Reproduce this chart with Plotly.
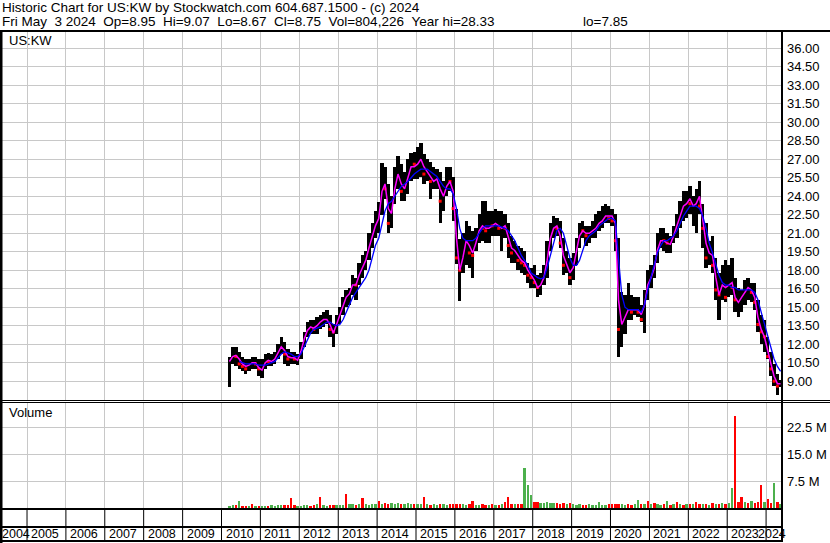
import plotly.graph_objects as go
import pandas as pd

# ---------------- data (monthly, Mar 2010 .. May 2024) ----------------
months = pd.period_range("2010-03", "2024-05", freq="M")

high = [
    11.0, 11.8, 11.8, 11.4, 11.0, 10.8, 10.8, 11.0, 11.0, 10.8,              # 2010 Mar-Dec
    10.8, 11.2, 11.3, 11.2, 11.4, 12.0, 12.6, 12.2, 11.6, 11.4, 11.4, 11.2,  # 2011
    12.2, 13.0, 13.8, 14.0, 14.0, 14.2, 14.4, 14.6, 14.8, 14.4, 13.6, 14.4,  # 2012
    15.0, 15.8, 16.4, 16.6, 17.6, 17.4, 18.6, 19.2, 19.6, 21.0, 21.8, 22.8,  # 2013
    23.5, 26.7, 26.4, 25.0, 24.0, 26.4, 27.3, 26.6, 26.0, 27.0, 27.5, 27.6,  # 2014
    28.0, 28.3, 27.4, 27.0, 26.8, 26.4, 26.2, 26.0, 25.2, 26.4, 26.4, 25.6,  # 2015
    23.0, 20.5, 21.0, 22.0, 21.6, 21.2, 21.4, 22.6, 23.6, 23.6, 22.8, 22.8,  # 2016
    23.0, 22.8, 22.8, 22.6, 21.8, 20.8, 20.4, 20.0, 19.8, 19.6, 18.6, 18.2,  # 2017
    18.4, 17.6, 17.8, 18.4, 20.4, 21.8, 22.4, 22.2, 22.0, 20.6, 19.6, 19.0,  # 2018
    19.4, 20.6, 21.8, 22.0, 21.6, 21.6, 22.0, 22.6, 22.8, 23.2, 23.4, 23.2,  # 2019
    23.0, 22.6, 20.6, 16.2, 16.0, 17.0, 16.0, 15.8, 15.8, 15.2, 16.4, 18.0,  # 2020
    18.4, 19.2, 21.0, 21.4, 21.4, 21.0, 20.8, 21.6, 22.6, 23.6, 24.4, 24.4,  # 2021
    24.8, 24.0, 24.6, 25.2, 23.4, 21.8, 20.4, 20.8, 19.0, 17.8, 18.4, 18.8,  # 2022
    18.4, 19.0, 17.4, 16.6, 16.4, 17.2, 17.4, 17.0, 17.0, 15.6, 14.4, 14.0,  # 2023
    12.6, 11.4, 10.4, 9.6, 9.1,                                              # 2024 Jan-May
]
low = [
    8.5, 10.4, 10.2, 10.0, 9.8, 9.6, 9.8, 10.0, 10.0, 9.4,
    9.3, 10.0, 10.2, 10.2, 10.4, 10.8, 11.2, 10.4, 10.2, 10.4, 10.4, 10.3,
    10.8, 11.8, 12.6, 12.8, 12.8, 12.8, 13.2, 13.4, 13.6, 12.6, 11.8, 12.8,
    13.6, 14.4, 15.0, 15.2, 16.0, 15.6, 16.8, 17.4, 18.0, 18.8, 19.8, 20.6,
    21.0, 22.5, 23.8, 21.0, 21.4, 23.4, 24.6, 23.6, 23.6, 24.2, 25.2, 25.4,
    25.4, 25.6, 25.0, 25.2, 23.8, 24.6, 24.6, 21.8, 22.8, 24.0, 24.4, 22.0,
    18.5, 15.5, 17.8, 18.4, 18.2, 17.4, 19.6, 20.2, 20.4, 20.2, 20.2, 20.8,
    20.8, 20.8, 19.6, 20.6, 19.0, 18.6, 18.6, 18.0, 17.8, 17.6, 17.0, 16.6,
    16.6, 15.8, 16.0, 16.8, 17.4, 19.6, 20.6, 20.8, 19.8, 17.6, 17.8, 16.8,
    17.2, 18.4, 19.8, 20.6, 20.0, 20.2, 20.6, 20.6, 21.2, 21.4, 21.8, 21.8,
    21.6, 19.6, 11.0, 11.8, 12.8, 14.0, 14.0, 14.4, 14.2, 13.8, 12.9, 15.6,
    16.6, 17.4, 18.6, 19.8, 19.6, 19.4, 19.4, 20.2, 20.6, 21.4, 22.0, 22.2,
    22.6, 21.6, 21.0, 22.6, 19.8, 18.2, 18.4, 17.8, 15.6, 14.0, 15.6, 15.4,
    15.8, 16.0, 14.6, 14.2, 14.6, 15.2, 15.6, 15.4, 14.8, 13.0, 12.0, 11.4,
    10.8, 9.4, 8.6, 7.85, 8.5,
]
close = [
    10.8, 11.2, 11.0, 10.4, 10.2, 10.0, 10.4, 10.6, 10.4, 10.0,
    10.2, 10.8, 10.6, 10.6, 11.0, 11.6, 12.0, 11.2, 10.8, 11.0, 10.8, 10.8,
    12.0, 12.8, 13.4, 13.4, 13.2, 13.8, 14.0, 14.0, 14.2, 13.2, 13.0, 14.0,
    14.8, 15.4, 16.0, 16.2, 17.2, 16.8, 18.2, 18.4, 19.2, 20.4, 21.0, 22.2,
    22.8, 25.5, 24.6, 21.8, 23.4, 25.8, 26.0, 24.4, 25.0, 26.4, 26.8, 26.6,
    26.6, 27.0, 25.8, 26.2, 25.2, 25.4, 25.6, 23.6, 24.4, 25.4, 25.2, 23.0,
    19.0, 18.0, 20.0, 20.6, 19.4, 19.2, 20.8, 21.6, 21.4, 21.2, 21.8, 21.6,
    21.8, 21.4, 21.6, 21.4, 20.0, 19.4, 19.6, 18.8, 18.6, 18.4, 17.6, 17.4,
    17.0, 16.6, 17.4, 17.6, 19.8, 21.2, 21.6, 21.4, 20.2, 18.4, 18.4, 17.4,
    18.8, 20.2, 21.4, 21.2, 20.8, 21.2, 21.4, 21.6, 22.0, 22.2, 22.6, 22.2,
    22.0, 20.4, 13.2, 14.0, 14.4, 15.0, 14.6, 14.8, 14.6, 14.0, 16.0, 17.5,
    17.6, 18.6, 20.2, 20.6, 20.4, 20.2, 20.2, 21.2, 21.8, 22.8, 23.2, 23.6,
    23.4, 23.4, 24.0, 23.2, 21.4, 19.0, 19.4, 18.4, 16.4, 16.0, 17.6, 15.8,
    17.0, 16.6, 15.6, 15.6, 16.0, 16.4, 16.8, 16.2, 15.4, 13.6, 13.0, 12.6,
    11.0, 10.0, 9.0, 8.6, 8.75,
]
ma_fast = [
    10.6, 11.0, 11.1, 10.8, 10.4, 10.2, 10.3, 10.5, 10.5, 10.1,
    9.9, 10.5, 10.7, 10.6, 10.8, 11.3, 11.8, 11.5, 11.0, 10.9, 10.9, 10.7,
    11.4, 12.4, 13.1, 13.4, 13.3, 13.5, 13.8, 14.0, 14.0, 13.6, 12.9, 13.6,
    14.4, 15.2, 15.8, 16.1, 16.8, 16.8, 17.6, 18.2, 18.8, 19.8, 20.8, 21.6,
    22.2, 24.4, 25.0, 23.0, 22.6, 24.6, 25.8, 25.0, 24.6, 25.6, 26.4, 26.4,
    26.6, 27.0, 26.4, 26.0, 25.6, 25.2, 25.4, 24.6, 24.0, 24.8, 25.2, 24.4,
    20.6, 18.0, 19.0, 20.4, 20.0, 19.4, 20.2, 21.2, 21.6, 21.4, 21.4, 21.6,
    21.8, 21.6, 21.4, 21.6, 20.8, 19.8, 19.6, 19.2, 18.8, 18.6, 18.0, 17.6,
    17.2, 16.6, 16.8, 17.4, 18.8, 20.6, 21.4, 21.6, 20.8, 19.2, 18.4, 17.8,
    18.2, 19.6, 20.8, 21.2, 21.0, 21.0, 21.2, 21.4, 21.8, 22.0, 22.4, 22.4,
    22.4, 21.8, 15.6, 13.6, 14.2, 14.8, 14.8, 14.8, 14.8, 14.4, 15.2, 16.8,
    17.4, 18.2, 19.6, 20.4, 20.4, 20.2, 20.1, 20.8, 21.6, 22.4, 23.2, 23.4,
    23.8, 23.2, 23.4, 24.0, 22.2, 20.2, 19.4, 19.2, 17.4, 16.0, 16.8, 16.6,
    16.8, 17.0, 15.8, 15.4, 15.8, 16.2, 16.6, 16.4, 15.8, 14.2, 13.2, 12.6,
    11.6, 10.4, 9.4, 8.8, 8.8,
]
ma_slow = [
    None, None, None, 10.6, 10.5, 10.4, 10.4, 10.4, 10.4, 10.3,
    10.3, 10.3, 10.4, 10.5, 10.6, 10.9, 11.2, 11.4, 11.3, 11.2, 11.0, 11.0,
    11.2, 11.8, 12.4, 12.9, 13.2, 13.3, 13.4, 13.6, 13.8, 13.8, 13.6, 13.5,
    13.6, 14.0, 14.6, 15.2, 15.8, 16.2, 16.6, 17.0, 17.4, 18.0, 19.0, 20.0,
    20.6, 21.8, 22.8, 23.4, 23.6, 24.0, 24.4, 24.8, 25.0, 25.2, 25.5, 25.8,
    26.0, 26.2, 26.2, 26.2, 26.0, 25.8, 25.6, 25.2, 24.8, 24.6, 24.6, 24.2,
    23.0, 21.4, 20.6, 20.4, 20.4, 20.4, 20.6, 21.0, 21.4, 21.6, 21.6, 21.6,
    21.6, 21.6, 21.5, 21.4, 21.2, 20.8, 20.4, 19.8, 19.2, 18.8, 18.4, 17.8,
    17.6, 17.4, 17.3, 17.4, 18.2, 19.2, 20.4, 21.2, 21.4, 21.0, 20.0, 19.0,
    18.4, 18.4, 18.8, 19.6, 20.4, 20.8, 21.0, 21.2, 21.6, 21.8, 22.0, 22.2,
    22.2, 22.0, 19.0, 16.0, 15.0, 14.8, 14.8, 14.8, 14.8, 14.6, 15.2, 16.4,
    17.4, 18.6, 19.4, 20.0, 20.4, 20.4, 20.6, 20.8, 21.2, 21.8, 22.4, 22.8,
    23.2, 23.2, 23.2, 23.0, 22.4, 21.4, 20.2, 19.4, 18.4, 17.6, 17.0, 16.8,
    16.8, 16.6, 16.6, 16.4, 16.4, 16.4, 16.4, 16.4, 16.2, 15.6, 14.6, 13.6,
    12.6, 11.6, 10.8, 10.2, 9.8,
]
volume_m = [
    0.6, 0.7, 0.8, 2.0, 0.6, 0.5, 0.6, 1.0, 0.6, 0.5,
    0.5, 0.6, 0.6, 0.7, 0.6, 0.7, 0.8, 0.9, 0.7, 2.8, 0.8, 0.6,
    0.6, 0.8, 0.7, 0.6, 0.7, 1.2, 3.2, 0.7, 0.6, 0.8, 0.7, 0.9,
    0.8, 0.9, 3.9, 1.0, 1.1, 0.9, 1.0, 2.8, 1.0, 0.9, 1.1, 1.0,
    2.0, 1.2, 1.4, 1.0, 1.5, 1.2, 1.3, 1.0, 1.2, 1.4, 1.1, 1.0,
    1.0, 1.1, 3.2, 1.0, 0.9, 1.0, 0.9, 1.2, 1.0, 0.9, 1.0, 1.1,
    1.0, 1.2, 1.0, 0.9, 1.0, 2.0, 0.9, 0.8, 1.0, 0.9, 0.8, 1.0,
    0.9, 0.8, 1.0, 1.7, 3.0, 1.2, 1.0, 1.1, 1.2, 11.2, 6.3, 3.7,
    1.8, 1.6, 1.5, 1.4, 1.6, 1.5, 1.3, 1.4, 1.2, 1.3, 1.2, 1.4,
    1.0, 0.9, 1.0, 0.8, 0.9, 1.0, 0.8, 0.9, 1.8, 0.9, 0.8, 1.0,
    1.0, 1.2, 1.2, 1.0, 0.9, 1.2, 0.9, 1.0, 2.3, 1.0, 1.2, 2.0,
    1.0, 1.4, 1.0, 0.9, 1.0, 2.0, 0.9, 1.0, 1.7, 1.0, 0.9, 1.1,
    1.0, 1.2, 1.7, 1.0, 1.2, 1.1, 0.9, 1.4, 1.0, 1.2, 1.3, 1.0,
    1.4, 5.6, 25.8, 1.6, 3.0, 1.6, 1.5, 2.0, 1.4, 1.6, 6.3, 1.6,
    2.5, 1.5, 7.0, 1.6, 1.2,
]
volume_up = [
    1, 1, 0, 1, 0, 0, 1, 0, 1, 0,
    1, 1, 0, 1, 1, 1, 1, 0, 0, 0, 0, 1,
    1, 1, 1, 0, 0, 1, 0, 1, 1, 0, 0, 1,
    1, 1, 0, 1, 1, 0, 1, 0, 1, 1, 1, 1,
    0, 1, 0, 0, 1, 1, 1, 0, 1, 1, 1, 0,
    1, 1, 0, 1, 0, 1, 1, 0, 1, 1, 0, 0,
    0, 0, 1, 1, 0, 0, 1, 1, 0, 0, 1, 0,
    1, 0, 1, 0, 0, 0, 1, 0, 0, 1, 1, 1,
    0, 0, 1, 1, 1, 1, 1, 0, 0, 0, 1, 0,
    1, 1, 1, 0, 0, 1, 1, 1, 1, 1, 1, 0,
    0, 0, 0, 1, 1, 0, 0, 1, 1, 0, 1, 0,
    1, 0, 1, 1, 0, 1, 0, 1, 0, 1, 0, 1,
    0, 1, 0, 0, 1, 0, 1, 0, 1, 0, 1, 0,
    1, 1, 0, 0, 0, 1, 0, 1, 0, 0, 0, 1,
    0, 0, 1, 0, 1,
]

price_ticks = [9.0, 10.5, 12.0, 13.5, 15.0, 16.5, 18.0, 19.5, 21.0, 22.5,
               24.0, 25.5, 27.0, 28.5, 30.0, 31.5, 33.0, 34.5, 36.0]
volume_ticks = [7.5, 15.0, 22.5]
volume_tick_text = ["7.5 M", "15.0 M", "22.5 M"]
years = [2004, 2005, 2006, 2007, 2008, 2009, 2010, 2011, 2012, 2013, 2014,
         2015, 2016, 2017, 2018, 2019, 2020, 2021, 2022, 2023, 2024]

NB2 = "\u00a0\u00a0"
header_1 = "Historic Chart for US:KW by Stockwatch.com 604.687.1500 - (c) 2024"
header_2a = ("Fri May" + NB2 + "3 2024" + NB2 + "Op=8.95" + NB2 + "Hi=9.07" + NB2 +
             "Lo=8.67" + NB2 + "Cl=8.75" + NB2 + "Vol=804,226" + NB2 + "Year hi=28.33")
header_2b = "lo=7.85"

assert len(months) == len(high) == len(low) == len(close) == len(ma_fast) \
    == len(ma_slow) == len(volume_m) == len(volume_up)

# ---------------- geometry helpers ----------------
W, H = 830, 543
def fx(px):
    return px / W
def fy(py):
    return 1 - py / H

FONT = "Liberation Sans, Arial, sans-serif"
GRID = "#c8c8c8"
DAY_MS = 86400000

mid = months.to_timestamp() + pd.Timedelta(days=15)
year_starts = [f"{y}-01-01" for y in years[1:]]

fig = go.Figure()

# price range band (high-low)
fig.add_trace(go.Bar(
    x=mid, y=[h - l for h, l in zip(high, low)], base=low,
    width=31 * DAY_MS, marker=dict(color="black", line=dict(width=0)),
    xaxis="x", yaxis="y", hoverinfo="skip", showlegend=False))

# red close ticks on down months
down_x = [m for i, m in enumerate(mid) if i > 0 and close[i] < close[i - 1]]
down_y = [c for i, c in enumerate(close) if i > 0 and close[i] < close[i - 1]]
fig.add_trace(go.Scatter(
    x=down_x, y=down_y, mode="markers",
    marker=dict(symbol="square", size=3, color="red", line=dict(width=0)),
    xaxis="x", yaxis="y", hoverinfo="skip", showlegend=False))

# moving averages
fig.add_trace(go.Scatter(x=mid, y=ma_fast, mode="lines",
                         line=dict(color="#ff00ff", width=1.5),
                         xaxis="x", yaxis="y", hoverinfo="skip", showlegend=False))
fig.add_trace(go.Scatter(x=mid, y=ma_slow, mode="lines",
                         line=dict(color="#0000ff", width=1.3),
                         xaxis="x", yaxis="y", hoverinfo="skip", showlegend=False))

# volume
fig.add_trace(go.Bar(
    x=mid, y=volume_m, width=22 * DAY_MS,
    marker=dict(color=["#4cb04c" if u else "#ff0000" for u in volume_up],
                line=dict(width=0)),
    xaxis="x2", yaxis="y2", hoverinfo="skip", showlegend=False))

x_range = ["2004-05-11", "2024-05-20"]
axis_font = dict(family=FONT, size=13, color="#000000")

fig.update_layout(
    width=W, height=H, autosize=False,
    margin=dict(l=0, r=0, t=0, b=0, pad=0),
    paper_bgcolor="white", plot_bgcolor="white",
    bargap=0, barmode="overlay",
    xaxis=dict(domain=[fx(2), fx(781)], range=x_range, type="date",
               tickvals=year_starts, showticklabels=False, ticks="",
               showgrid=True, gridcolor=GRID, gridwidth=1,
               zeroline=False, showline=False, anchor="y", fixedrange=True),
    yaxis=dict(domain=[fy(400), fy(31)], range=[7.476, 37.403],
               side="right", anchor="x",
               tickvals=price_ticks, ticktext=[f"{v:.2f}" for v in price_ticks],
               tickfont=axis_font, ticks="", ticklabelstandoff=5,
               showgrid=True, gridcolor=GRID, gridwidth=1,
               zeroline=False, showline=False, fixedrange=True),
    xaxis2=dict(domain=[fx(2), fx(781)], range=x_range, type="date",
                tickvals=year_starts, showticklabels=False, ticks="",
                showgrid=True, gridcolor=GRID, gridwidth=1,
                zeroline=False, showline=False, anchor="y2", fixedrange=True),
    yaxis2=dict(domain=[fy(508), fy(402)], range=[0, 29.6],
                side="right", anchor="x2",
                tickvals=volume_ticks, ticktext=volume_tick_text,
                tickfont=axis_font, ticks="", ticklabelstandoff=5,
                showgrid=True, gridcolor=GRID, gridwidth=1,
                zeroline=False, showline=False, fixedrange=True),
)

# ---------------- frame lines ----------------
def hline(py, x0, x1, w):
    fig.add_shape(type="line", xref="paper", yref="paper",
                  x0=fx(x0), x1=fx(x1), y0=fy(py), y1=fy(py),
                  line=dict(color="black", width=w))

def vline(px, y0, y1, w):
    fig.add_shape(type="line", xref="paper", yref="paper",
                  x0=fx(px), x1=fx(px), y0=fy(y0), y1=fy(y1),
                  line=dict(color="black", width=w))

hline(31, 0, 830, 2)
hline(400.5, 0, 830, 1)
hline(402.5, 0, 830, 1)
hline(509, 0, 782, 2)
hline(527, 0, 782, 2)
hline(541, 0, 782, 2)
vline(1, 30, 543, 3)
vline(782, 30, 542, 2)

# year separators in the date rows
for ys in year_starts:
    fig.add_shape(type="line", xref="x2", yref="paper",
                  x0=ys, x1=ys, y0=fy(541), y1=fy(509),
                  line=dict(color="black", width=1))

# ---------------- texts ----------------
def note(text, x, y, xanchor="left", xref="paper", xshift=0, size=13):
    fig.add_annotation(text=text, x=x, y=y, xref=xref, yref="paper",
                       xanchor=xanchor, yanchor="middle", showarrow=False,
                       xshift=xshift, borderpad=0,
                       font=dict(family=FONT, size=size, color="#000000"))

note(header_1, fx(1), fy(7.5), size=13.5)
note(header_2a, fx(1), fy(21.5), size=13.5)
note(header_2b, fx(629), fy(21.5), xanchor="right", size=13.5)
note("US:KW", fx(8), fy(40))
note("Volume", fx(8), fy(413))

for y in years:
    if y == 2004:
        note(str(y), fx(1), fy(534), xanchor="left", size=12.5)
    elif y == 2024:
        note(str(y), "2024-01-01", fy(534), xanchor="left", xref="x2", xshift=-9, size=12.5)
    else:
        note(str(y), f"{y}-01-01", fy(534), xanchor="left", xref="x2", xshift=3, size=12.5)

fig.write_html("out.html", config={"displayModeBar": False},
               post_script="document.body.style.margin='0';document.body.style.overflow='hidden';")
